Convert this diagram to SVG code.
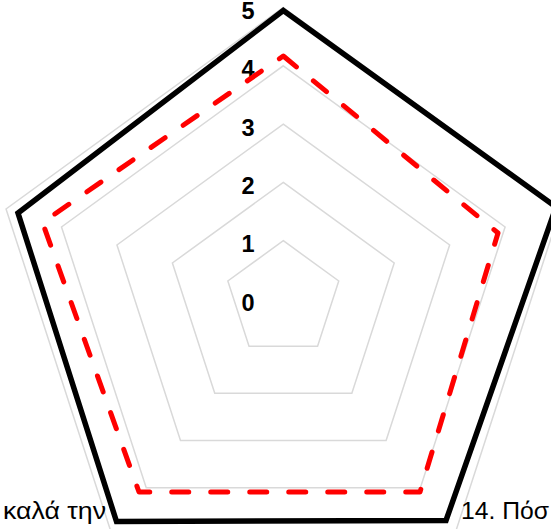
<svg xmlns="http://www.w3.org/2000/svg" width="551" height="529" viewBox="0 0 551 529">
  <style>
    .grid { fill: none; stroke: #d9d9d9; stroke-width: 1.5; }
    .tick { font-family: "Liberation Sans", Arial, sans-serif; font-weight: bold; font-size: 23.5px; fill: #000; text-anchor: end; }
    .cat { font-family: "Liberation Sans", Arial, sans-serif; font-size: 24px; fill: #000; }
    .s1 { fill: none; stroke: #000; stroke-width: 5.5; stroke-linejoin: miter; }
    .s2 { fill: none; stroke: #ff0000; stroke-width: 5; stroke-dasharray: 17 22; stroke-linecap: round; stroke-linejoin: round; }
  </style>
  <rect width="551" height="529" fill="#fff"/>
  <g id="grid">
    <polygon class="grid" points="283.3,240.7 338.75,280.98 317.57,346.16 249.03,346.16 227.85,280.98"/>
    <polygon class="grid" points="283.3,182.4 394.2,262.97 351.84,393.33 214.76,393.33 172.4,262.97"/>
    <polygon class="grid" points="283.3,124.1 449.64,244.96 386.11,440.49 180.49,440.49 116.96,244.96"/>
    <polygon class="grid" points="283.3,65.8 505.09,226.94 420.37,487.66 146.23,487.66 61.51,226.94"/>
    <polygon class="grid" points="283.3,7.5 560.55,208.93 454.64,534.82 111.96,534.82 6.05,208.93"/>
  </g>
  <g id="axis-labels">
    <text class="tick" x="254.5" y="310.5">0</text>
    <text class="tick" x="254.5" y="252.2">1</text>
    <text class="tick" x="254.5" y="193.9">2</text>
    <text class="tick" x="254.5" y="135.6">3</text>
    <text class="tick" x="254.5" y="77.3">4</text>
    <text class="tick" x="254.5" y="19">5</text>
    <text class="cat" x="3" y="519" textLength="103" lengthAdjust="spacingAndGlyphs">καλά την</text>
    <text class="cat" x="461" y="519" textLength="88" lengthAdjust="spacingAndGlyphs">14. Πόσ</text>
  </g>
  <g id="connectors">
    <polygon id="series-red" class="s2" points="283.3,56 498,233 420,492 139,492 42.5,222.5"/>
    <polygon id="series-black" class="s1" points="283.3,10.5 556,207 446,520.5 116.5,521.5 18,213"/>
  </g>
</svg>
